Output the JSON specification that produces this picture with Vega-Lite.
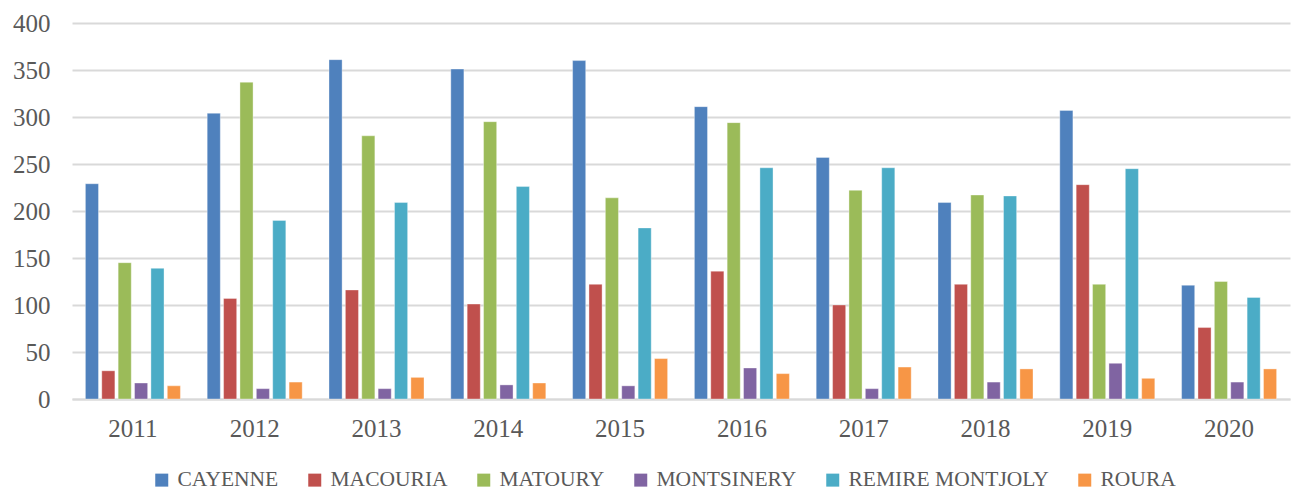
{
  "$schema": "https://vega.github.io/schema/vega-lite/v6.json",
  "autosize": {"type": "none"},
  "padding": {"left": 72, "top": 23, "right": 2, "bottom": 93},
  "width": 1218,
  "height": 376,
  "background": "white",
  "data": {
    "values": [
      {"year": "2011", "commune": "CAYENNE", "value": 229},
      {"year": "2011", "commune": "MACOURIA", "value": 30},
      {"year": "2011", "commune": "MATOURY", "value": 145},
      {"year": "2011", "commune": "MONTSINERY", "value": 17},
      {"year": "2011", "commune": "REMIRE MONTJOLY", "value": 139},
      {"year": "2011", "commune": "ROURA", "value": 14},
      {"year": "2012", "commune": "CAYENNE", "value": 304},
      {"year": "2012", "commune": "MACOURIA", "value": 107},
      {"year": "2012", "commune": "MATOURY", "value": 337},
      {"year": "2012", "commune": "MONTSINERY", "value": 11},
      {"year": "2012", "commune": "REMIRE MONTJOLY", "value": 190},
      {"year": "2012", "commune": "ROURA", "value": 18},
      {"year": "2013", "commune": "CAYENNE", "value": 361},
      {"year": "2013", "commune": "MACOURIA", "value": 116},
      {"year": "2013", "commune": "MATOURY", "value": 280},
      {"year": "2013", "commune": "MONTSINERY", "value": 11},
      {"year": "2013", "commune": "REMIRE MONTJOLY", "value": 209},
      {"year": "2013", "commune": "ROURA", "value": 23},
      {"year": "2014", "commune": "CAYENNE", "value": 351},
      {"year": "2014", "commune": "MACOURIA", "value": 101},
      {"year": "2014", "commune": "MATOURY", "value": 295},
      {"year": "2014", "commune": "MONTSINERY", "value": 15},
      {"year": "2014", "commune": "REMIRE MONTJOLY", "value": 226},
      {"year": "2014", "commune": "ROURA", "value": 17},
      {"year": "2015", "commune": "CAYENNE", "value": 360},
      {"year": "2015", "commune": "MACOURIA", "value": 122},
      {"year": "2015", "commune": "MATOURY", "value": 214},
      {"year": "2015", "commune": "MONTSINERY", "value": 14},
      {"year": "2015", "commune": "REMIRE MONTJOLY", "value": 182},
      {"year": "2015", "commune": "ROURA", "value": 43},
      {"year": "2016", "commune": "CAYENNE", "value": 311},
      {"year": "2016", "commune": "MACOURIA", "value": 136},
      {"year": "2016", "commune": "MATOURY", "value": 294},
      {"year": "2016", "commune": "MONTSINERY", "value": 33},
      {"year": "2016", "commune": "REMIRE MONTJOLY", "value": 246},
      {"year": "2016", "commune": "ROURA", "value": 27},
      {"year": "2017", "commune": "CAYENNE", "value": 257},
      {"year": "2017", "commune": "MACOURIA", "value": 100},
      {"year": "2017", "commune": "MATOURY", "value": 222},
      {"year": "2017", "commune": "MONTSINERY", "value": 11},
      {"year": "2017", "commune": "REMIRE MONTJOLY", "value": 246},
      {"year": "2017", "commune": "ROURA", "value": 34},
      {"year": "2018", "commune": "CAYENNE", "value": 209},
      {"year": "2018", "commune": "MACOURIA", "value": 122},
      {"year": "2018", "commune": "MATOURY", "value": 217},
      {"year": "2018", "commune": "MONTSINERY", "value": 18},
      {"year": "2018", "commune": "REMIRE MONTJOLY", "value": 216},
      {"year": "2018", "commune": "ROURA", "value": 32},
      {"year": "2019", "commune": "CAYENNE", "value": 307},
      {"year": "2019", "commune": "MACOURIA", "value": 228},
      {"year": "2019", "commune": "MATOURY", "value": 122},
      {"year": "2019", "commune": "MONTSINERY", "value": 38},
      {"year": "2019", "commune": "REMIRE MONTJOLY", "value": 245},
      {"year": "2019", "commune": "ROURA", "value": 22},
      {"year": "2020", "commune": "CAYENNE", "value": 121},
      {"year": "2020", "commune": "MACOURIA", "value": 76},
      {"year": "2020", "commune": "MATOURY", "value": 125},
      {"year": "2020", "commune": "MONTSINERY", "value": 18},
      {"year": "2020", "commune": "REMIRE MONTJOLY", "value": 108},
      {"year": "2020", "commune": "ROURA", "value": 32}
    ]
  },
  "mark": {"type": "bar", "stroke": "white", "strokeWidth": 0.6, "strokeOpacity": 0.6},
  "encoding": {
    "x": {
      "field": "year",
      "type": "nominal",
      "scale": {"paddingInner": 0.22, "paddingOuter": 0.11},
      "axis": {
        "title": null,
        "labelAngle": 0,
        "ticks": false,
        "domainColor": "#D9D9D9",
        "domainWidth": 2,
        "labelPadding": 17,
        "labelFont": "Liberation Serif",
        "labelFontSize": 25,
        "labelColor": "#595959"
      }
    },
    "xOffset": {
      "field": "commune",
      "type": "nominal",
      "scale": {"paddingInner": 0.2, "paddingOuter": 0}
    },
    "y": {
      "field": "value",
      "type": "quantitative",
      "scale": {"domain": [0, 400], "nice": false},
      "axis": {
        "title": null,
        "values": [0, 50, 100, 150, 200, 250, 300, 350, 400],
        "domain": false,
        "ticks": false,
        "gridColor": "#D9D9D9",
        "gridWidth": 2,
        "labelPadding": 22,
        "labelFont": "Liberation Serif",
        "labelFontSize": 25,
        "labelColor": "#595959"
      }
    },
    "color": {
      "field": "commune",
      "type": "nominal",
      "scale": {
        "domain": ["CAYENNE", "MACOURIA", "MATOURY", "MONTSINERY", "REMIRE MONTJOLY", "ROURA"],
        "range": ["#4F81BD", "#C0504D", "#9BBB59", "#8064A2", "#4BACC6", "#F79646"]
      },
      "legend": {
        "title": null,
        "orient": "none",
        "direction": "horizontal",
        "legendX": 79,
        "legendY": 446,
        "symbolType": "square",
        "symbolSize": 169,
        "symbolStrokeWidth": 0,
        "symbolOpacity": 1,
        "labelFont": "Liberation Serif",
        "labelFontSize": 21.5,
        "labelColor": "#595959",
        "labelOffset": 5,
        "columnPadding": 25,
        "labelLimit": 400
      }
    }
  },
  "config": {"view": {"stroke": null}}
}
